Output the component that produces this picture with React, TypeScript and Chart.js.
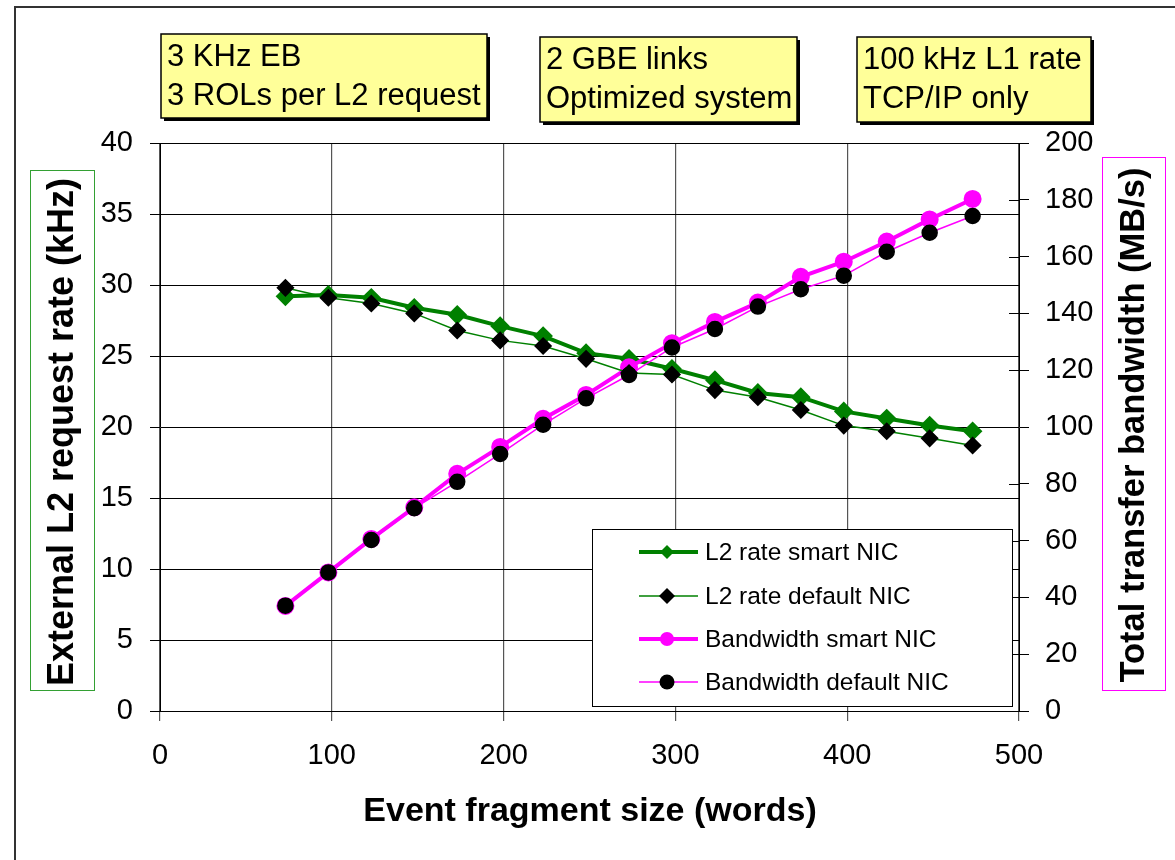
import { useEffect, useRef } from 'react';
import { Chart, registerables } from 'chart.js';

Chart.register(...registerables);

const FONT = '"Liberation Sans", Arial, Helvetica, sans-serif';

// ---- data ----
const fragSize = [73, 98, 123, 148, 173, 198, 223, 248, 273, 298, 323, 348, 373, 398, 423, 448, 473];
const l2Smart = [29.2, 29.3, 29.1, 28.4, 27.9, 27.1, 26.4, 25.2, 24.8, 24.1, 23.3, 22.4, 22.1, 21.1, 20.6, 20.1, 19.7];
const l2Default = [29.8, 29.1, 28.7, 28.0, 26.8, 26.1, 25.7, 24.8, 23.8, 23.7, 22.6, 22.1, 21.2, 20.1, 19.7, 19.2, 18.7];
const bwSmart = [37.0, 48.8, 60.6, 71.7, 83.5, 93.0, 102.9, 111.3, 121.0, 129.5, 137.0, 143.8, 152.9, 158.2, 165.3, 173.1, 180.3];
const bwDefault = [37.1, 48.8, 60.2, 71.4, 80.7, 90.5, 100.8, 110.1, 118.3, 128.0, 134.5, 142.4, 148.5, 153.3, 161.7, 168.4, 174.3];

const seriesNames = ['L2 rate smart NIC', 'L2 rate default NIC', 'Bandwidth smart NIC', 'Bandwidth default NIC'];
const infoBoxes = [
  ['3 KHz EB', '3 ROLs per L2 request'],
  ['2 GBE links', 'Optimized system'],
  ['100 kHz L1 rate', 'TCP/IP only'],
];
const leftTitle = 'External L2 request rate (kHz)';
const rightTitle = 'Total transfer bandwidth (MB/s)';
const xTitle = 'Event fragment size (words)';

const GREEN = '#008000';
const MAGENTA = '#FF00FF';

const toPts = (ys: number[]) => fragSize.map((x, i) => ({ x, y: ys[i] }));

const boxGeom = [
  { x: 161, y: 34, w: 326, h: 84 },
  { x: 540, y: 37, w: 257, h: 85 },
  { x: 857, y: 37, w: 234, h: 85 },
];

function drawMarker(ctx: CanvasRenderingContext2D, style: string, x: number, y: number, r: number, color: string) {
  ctx.save();
  ctx.fillStyle = color;
  ctx.beginPath();
  if (style === 'rectRot') {
    ctx.moveTo(x, y - r);
    ctx.lineTo(x + r, y);
    ctx.lineTo(x, y + r);
    ctx.lineTo(x - r, y);
    ctx.closePath();
  } else {
    ctx.arc(x, y, r, 0, Math.PI * 2);
  }
  ctx.fill();
  ctx.restore();
}

const decor = {
  id: 'decor',
  beforeDraw(chart: any) {
    const ctx = chart.ctx;
    ctx.save();
    ctx.fillStyle = '#ffffff';
    ctx.fillRect(0, 0, chart.width, chart.height);
    ctx.restore();
  },
  afterDraw(chart: any) {
    const ctx: CanvasRenderingContext2D = chart.ctx;
    const area = chart.chartArea;
    ctx.save();

    // outer frame (top and left)
    ctx.strokeStyle = '#333';
    ctx.lineWidth = 2;
    ctx.beginPath();
    ctx.moveTo(15, 860);
    ctx.lineTo(15, 7);
    ctx.lineTo(1175, 7);
    ctx.stroke();

    // inner ticks of right axis
    const y1 = chart.scales.y1;
    ctx.strokeStyle = '#000';
    ctx.lineWidth = 1;
    y1.ticks.forEach((t: any) => {
      const py = Math.round(y1.getPixelForValue(t.value)) + 0.5;
      ctx.beginPath();
      ctx.moveTo(area.right - 10, py);
      ctx.lineTo(area.right, py);
      ctx.stroke();
    });

    // info boxes
    ctx.font = `31px ${FONT}`;
    ctx.textBaseline = 'middle';
    ctx.textAlign = 'left';
    boxGeom.forEach((b, i) => {
      ctx.fillStyle = '#000';
      ctx.fillRect(b.x + 3, b.y + 3, b.w, b.h);
      ctx.fillStyle = '#FFFF99';
      ctx.fillRect(b.x, b.y, b.w, b.h);
      ctx.strokeStyle = '#000';
      ctx.lineWidth = 1.5;
      ctx.strokeRect(b.x, b.y, b.w, b.h);
      ctx.fillStyle = '#000';
      infoBoxes[i].forEach((line, k) => {
        ctx.fillText(line, b.x + 6, b.y + 23 + k * 39);
      });
    });

    // axis titles
    ctx.textAlign = 'center';
    ctx.textBaseline = 'middle';
    ctx.fillStyle = '#000';
    ctx.font = `bold 34px ${FONT}`;
    ctx.fillText(xTitle, 590, 812);

    ctx.strokeStyle = '#33a033';
    ctx.lineWidth = 1;
    ctx.strokeRect(30.5, 170.5, 64, 520);
    ctx.save();
    ctx.font = `bold 36px ${FONT}`;
    ctx.translate(63, 432);
    ctx.rotate(-Math.PI / 2);
    ctx.fillText(leftTitle, 0, 0);
    ctx.restore();

    ctx.strokeStyle = MAGENTA;
    ctx.strokeRect(1102.5, 157.5, 63, 533);
    ctx.save();
    ctx.font = `bold 34.5px ${FONT}`;
    ctx.translate(1134, 425);
    ctx.rotate(-Math.PI / 2);
    ctx.fillText(rightTitle, 0, 0);
    ctx.restore();

    // legend
    const lx = 592, ly = 529, lw = 420, lh = 177;
    ctx.fillStyle = '#fff';
    ctx.fillRect(lx, ly, lw, lh);
    ctx.strokeStyle = '#000';
    ctx.lineWidth = 1;
    ctx.strokeRect(lx + 0.5, ly + 0.5, lw, lh);
    const rows = [552, 596, 639, 682];
    ctx.font = `24.5px ${FONT}`;
    ctx.textAlign = 'left';
    ctx.textBaseline = 'middle';
    chart.data.datasets.forEach((ds: any, i: number) => {
      const ry = rows[i];
      ctx.strokeStyle = ds.borderColor;
      ctx.lineWidth = ds.borderWidth;
      ctx.beginPath();
      ctx.moveTo(639, ry);
      ctx.lineTo(698, ry);
      ctx.stroke();
      drawMarker(ctx, ds.pointStyle, 667, ry, ds.pointRadius, ds.pointBackgroundColor);
      ctx.fillStyle = '#000';
      ctx.fillText(ds.label, 705, ry + 1);
    });

    ctx.restore();
  },
};

export default function App() {
  const ref = useRef<HTMLCanvasElement>(null);
  useEffect(() => {
    const tickFont = { family: FONT, size: 29 };
    const chart = new Chart(ref.current as HTMLCanvasElement, {
      type: 'line',
      data: {
        datasets: [
          {
            label: seriesNames[0],
            data: toPts(l2Smart),
            yAxisID: 'y',
            borderColor: GREEN,
            backgroundColor: GREEN,
            borderWidth: 4,
            pointStyle: 'rectRot',
            pointRadius: 7,
            pointBackgroundColor: GREEN,
            pointBorderColor: GREEN,
            order: 3,
          },
          {
            label: seriesNames[1],
            data: toPts(l2Default),
            yAxisID: 'y',
            borderColor: GREEN,
            backgroundColor: '#000',
            borderWidth: 1.5,
            pointStyle: 'rectRot',
            pointRadius: 8,
            pointBackgroundColor: '#000',
            pointBorderColor: '#000',
            order: 1,
          },
          {
            label: seriesNames[2],
            data: toPts(bwSmart),
            yAxisID: 'y1',
            borderColor: MAGENTA,
            backgroundColor: MAGENTA,
            borderWidth: 4,
            pointStyle: 'circle',
            pointRadius: 7,
            pointBackgroundColor: MAGENTA,
            pointBorderColor: MAGENTA,
            order: 2,
          },
          {
            label: seriesNames[3],
            data: toPts(bwDefault),
            yAxisID: 'y1',
            borderColor: MAGENTA,
            backgroundColor: '#000',
            borderWidth: 1.5,
            pointStyle: 'circle',
            pointRadius: 7.5,
            pointBackgroundColor: '#000',
            pointBorderColor: '#000',
            order: 0,
          },
        ] as any,
      },
      options: {
        responsive: false,
        animation: false,
        devicePixelRatio: 1,
        layout: { padding: { top: 143, left: 0, right: 0, bottom: 0 } },
        plugins: {
          legend: { display: false },
          tooltip: { enabled: false },
          title: { display: false },
        },
        elements: { line: { tension: 0 } },
        scales: {
          x: {
            type: 'linear',
            position: 'bottom',
            min: 0,
            max: 500,
            ticks: { stepSize: 100, font: tickFont, color: '#000', padding: 18, maxRotation: 0 },
            grid: { color: '#555', lineWidth: 1.2, tickLength: 10 },
            border: { color: '#000', width: 1 },
            afterFit: (s: any) => { s.height = 149; },
          },
          y: {
            type: 'linear',
            position: 'left',
            min: 0,
            max: 40,
            ticks: { stepSize: 5, font: tickFont, color: '#000', padding: 17 },
            grid: { color: '#000', lineWidth: 1, tickLength: 10 },
            border: { color: '#000', width: 1 },
            afterFit: (s: any) => { s.width = 160; },
          },
          y1: {
            type: 'linear',
            position: 'right',
            min: 0,
            max: 200,
            ticks: { stepSize: 20, font: tickFont, color: '#000', padding: 16 },
            grid: { drawOnChartArea: false, color: '#000', lineWidth: 1, tickLength: 10 },
            border: { color: '#000', width: 1 },
            afterFit: (s: any) => { s.width = 156; },
          },
        },
      } as any,
      plugins: [decor],
    });
    return () => chart.destroy();
  }, []);
  return (
    <canvas
      ref={ref}
      width={1175}
      height={860}
      style={{ position: 'fixed', left: 0, top: 0, width: 1175, height: 860 }}
    />
  );
}
